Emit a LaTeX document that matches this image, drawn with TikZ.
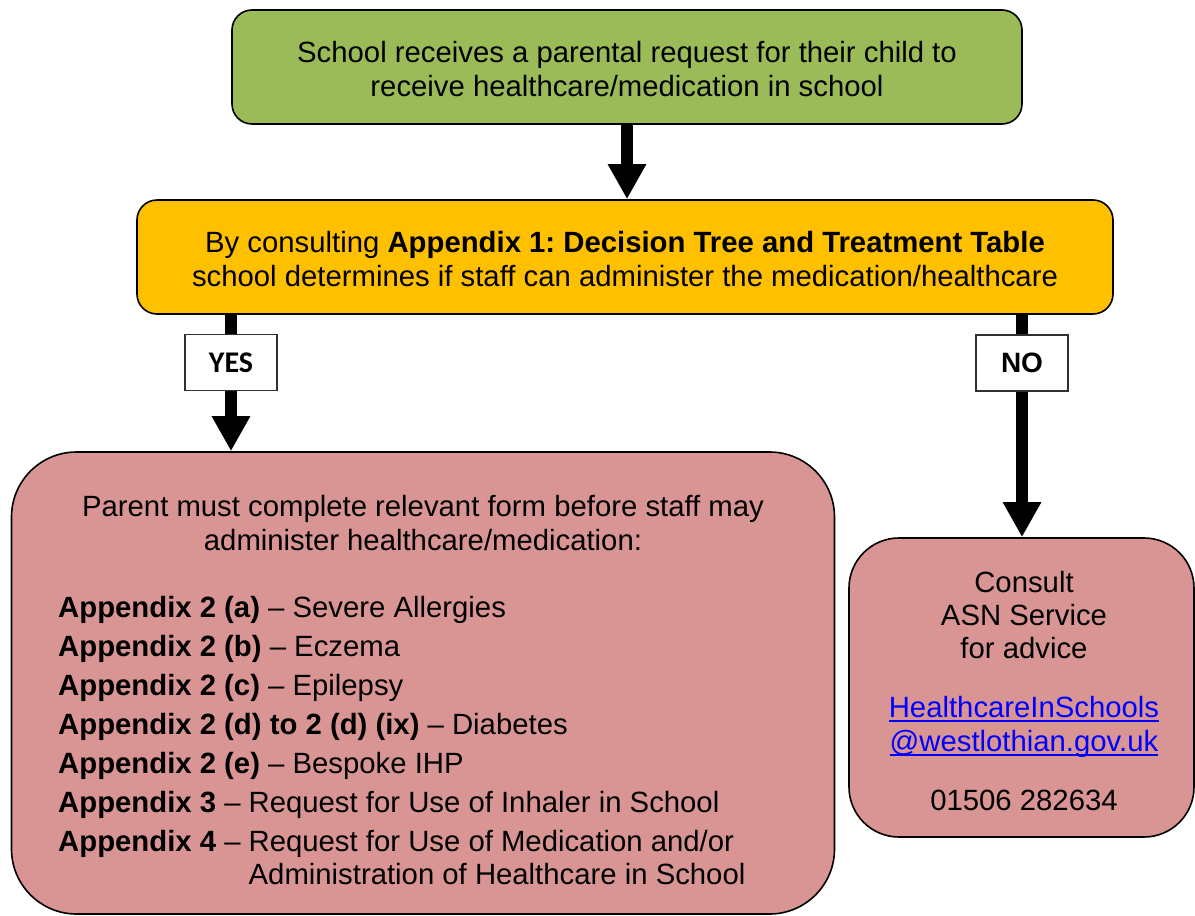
\documentclass[tikz,border=0pt]{standalone}
\usepackage{fontspec}
\setmainfont{Liberation Sans}
\newfontfamily\calibrifont{Carlito}
\usetikzlibrary{arrows.meta,calc}
\definecolor{boxgreen}{HTML}{9BBB59}
\definecolor{boxorange}{HTML}{FFC000}
\definecolor{boxpink}{HTML}{D99594}
\definecolor{linkblue}{HTML}{0000FF}
\definecolor{lblborder}{HTML}{303030}
\frenchspacing
\newcommand\linktext[1]{\setbox0\hbox{#1}\rlap{\color{linkblue}\rule[-5pt]{\wd0}{1.6pt}}\box0}
\tikzset{
  box/.style={draw=black, line width=1.6pt, inner sep=0pt, align=center,
    font=\fontsize{29.3}{34}\selectfont},
  txt/.style={inner sep=0pt, font=\fontsize{29.3}{34}\selectfont},
  flow/.style={line width=12pt, -{Triangle[width=36pt,length=35pt]}},
  lbl/.style={draw=lblborder, fill=white, line width=1.2pt, minimum width=92pt,
    minimum height=56pt, inner sep=0pt},
}
\begin{document}
\begin{tikzpicture}[x=1pt,y=-1pt]
\useasboundingbox (0,0) rectangle (1195,916);

\node[box, fill=boxgreen, rounded corners=20pt, minimum width=790pt, minimum height=114pt]
  (req) at (627,67) {\rule{0pt}{26pt}School receives a parental request for their child to\\receive healthcare/medication in school};

\node[box, fill=boxorange, rounded corners=20pt, minimum width=976pt, minimum height=114pt]
  (cons) at (625,257) {\rule{0pt}{26pt}By consulting \textbf{Appendix 1: Decision Tree and Treatment Table}\\school determines if staff can administer the medication/healthcare};

\node[box, fill=boxpink, rounded corners=65pt, minimum width=823pt, minimum height=462pt]
  (form) at (423,683) {};

\node[box, fill=boxpink, rounded corners=50pt, minimum width=345pt, minimum height=299pt]
  (asn) at (1021.5,687.5) {};

\coordinate (yx) at (231,0);
\coordinate (nx) at (1022,0);

\draw[flow] (req.south) -- (req.south |- cons.north);
\draw[flow] (cons.south -| yx) -- node[lbl, pos=0.35, font=\calibrifont\bfseries\fontsize{30}{34}\selectfont] (yes) {\raisebox{-3pt}{YES}} (form.north -| yx);
\draw[flow] (cons.south -| nx) -- node[lbl, pos=0.217, font=\bfseries\fontsize{28}{32}\selectfont] (no) {\raisebox{-3pt}{NO}} (asn.north -| nx);

% left box text
\node[txt, anchor=base] (h1) at (423,516) {Parent must complete relevant form before staff may};
\node[txt, anchor=base] (h2) at (423,550) {administer healthcare/medication:};
\node[txt, anchor=base west] (a1) at (58,617) {\textbf{Appendix 2 (a)} – Severe Allergies};
\node[txt, anchor=base west] (a2) at (58,656) {\textbf{Appendix 2 (b)} – Eczema};
\node[txt, anchor=base west] (a3) at (58,695) {\textbf{Appendix 2 (c)} – Epilepsy};
\node[txt, anchor=base west] (a4) at (58,734) {\textbf{Appendix 2 (d) to 2 (d) (ix)} – Diabetes};
\node[txt, anchor=base west] (a5) at (58,773) {\textbf{Appendix 2 (e)} – Bespoke IHP};
\node[txt, anchor=base west] (a6) at (58,812) {\textbf{Appendix 3} – Request for Use of Inhaler in School};
\node[txt, anchor=base west] (a7) at (58,851) {\textbf{Appendix 4} – Request for Use of Medication and/or};
\node[txt, anchor=base west] (a8) at (58,884) {\phantom{\textbf{Appendix 4} – }Administration of Healthcare in School};

% right box text
\node[txt, anchor=base] (r1) at (1024,592) {Consult};
\node[txt, anchor=base] (r2) at (1024,625) {ASN Service};
\node[txt, anchor=base] (r3) at (1024,658) {for advice};
\node[txt, anchor=base, text=linkblue] (r4) at (1024,717) {\linktext{HealthcareInSchools}};
\node[txt, anchor=base, text=linkblue] (r5) at (1024,751) {\linktext{@westlothian.gov.uk}};
\node[txt, anchor=base] (r6) at (1024,810) {01506 282634};
\end{tikzpicture}
\end{document}
